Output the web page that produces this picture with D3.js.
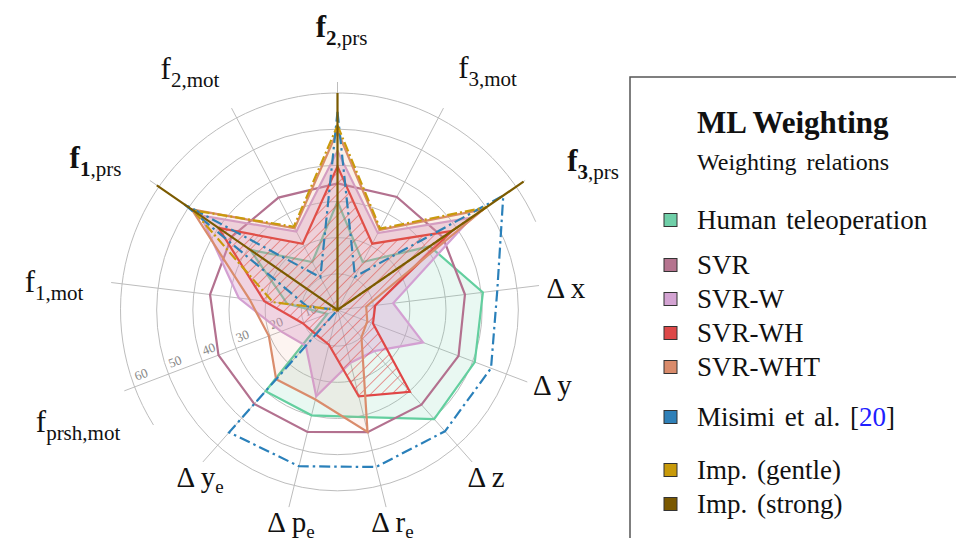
<!DOCTYPE html>
<html>
<head>
<meta charset="utf-8">
<script src="https://cdn.jsdelivr.net/npm/d3@7"></script>
<style>
  body { margin: 0; background: #fff; }
  svg, text { font-family: "Liberation Serif", "Times New Roman", "DejaVu Serif", serif; }
</style>
</head>
<body>
<div id="draw"></div>
<script>
// axes, clockwise from the top
var axisMain = ["f", "f", "f", "\u0394 x", "\u0394 y", "\u0394 z", "\u0394 r", "\u0394 p", "\u0394 y", "f", "f", "f", "f"];
var axisSub  = ["2", "3,mot", "3", "", "", "", "e", "e", "e", "prsh,mot", "1,mot", "1", "2,mot"];
var axisSubRest = [",prs", "", ",prs", "", "", "", "", "", "", "", "", ",prs", ""];
var axisBold = [true, false, true, false, false, false, false, false, false, false, false, true, false];
var ticks = [10, 20, 30, 40, 50, 60];

// series values (same axis order)
var human   = [30, 15, 31, 40.5, 40.6, 40.3, 30.5, 30, 30, 3, 14, 29.3, 15];
var svr     = [35, 35.3, 35.4, 35.5, 35.8, 35, 34.8, 34.7, 34.7, 35.2, 35.5, 35.6, 35.1];
var svrW    = [44, 24, 45, 15.5, 25.3, 15.2, 15, 24.6, 13.2, 16.7, 27.5, 46, 24.5];
var svrWH   = [39.7, 20.7, 38.5, 10.5, 10.5, 30.2, 24.6, 9.9, 9, 10.3, 20.4, 40, 20.7];
var svrWHT  = [49.5, 25, 49, 8, 8.8, 10, 34.7, 25.5, 25.6, 20.3, 24.5, 49, 25.5];
var misimi  = [54.8, 10.4, 55.7, 44.5, 45.4, 44.8, 44.7, 44.5, 45.2, 0, 8.5, 51.5, 10.2];
var impGentle = [51, 25.4, 50, 0, 0, 0, 0, 0, 0, 0, 18, 48.5, 26];
var impStrong = [60, 0, 62.5, 0, 0, 0, 0, 0, 0, 0, 0, 60.7, 0];

var seriesNames = ["Human teleoperation", "SVR", "SVR-W", "SVR-WH", "SVR-WHT", "Misimi et al. [20]", "Imp. (gentle)", "Imp. (strong)"];
var legendGroup = [0, 1, 1, 1, 1, 2, 3, 3];

var width = 956, height = 538;
var cx = 337.5, cy = 310;
var n = axisMain.length;

var svg = d3.select("#draw").append("svg")
	.attr("width", width)
	.attr("height", height)
	.attr("font-family", "'Liberation Serif', 'Times New Roman', serif");

var defs = svg.append("defs");
var hatch = defs.append("pattern")
	.attr("id", "hatch")
	.attr("patternUnits", "userSpaceOnUse")
	.attr("width", 7.5)
	.attr("height", 7.5)
	.attr("patternTransform", "rotate(45)");
hatch.append("line")
	.attr("x1", 0).attr("y1", 0).attr("x2", 0).attr("y2", 7.5)
	.attr("stroke", "#e04646")
	.attr("stroke-width", 1.1);

var r = d3.scaleLinear().domain([0, 60]).range([0, 217]);
function ang(i) { return i * 2 * Math.PI / n; }
function dir(i) { return [Math.sin(ang(i)), -Math.cos(ang(i))]; }

var g = svg.append("g").attr("transform", "translate(" + cx + "," + cy + ")");

// grid rings
var grid = g.append("g");
grid.selectAll("circle.ring")
	.data(ticks.slice(0, 5))
	.enter()
	.append("circle")
	.attr("r", function(d){ return r(d); })
	.attr("fill", "none")
	.attr("stroke", "#bdbdbd")
	.attr("stroke-width", 1);

// outer ring only over the f-sector
var outer = d3.path();
outer.arc(0, 0, r(60), (238 - 90) * Math.PI / 180, (66 + 360 - 90) * Math.PI / 180);
grid.append("path")
	.attr("d", outer.toString())
	.attr("fill", "none")
	.attr("stroke", "#bdbdbd")
	.attr("stroke-width", 1);

// spokes
grid.selectAll("line.spoke")
	.data(d3.range(n))
	.enter()
	.append("line")
	.attr("x1", 0).attr("y1", 0)
	.attr("x2", function(i){ return dir(i)[0] * (axisMain[i] == "f" ? 228 : 203); })
	.attr("y2", function(i){ return dir(i)[1] * (axisMain[i] == "f" ? 228 : 203); })
	.attr("stroke", "#bdbdbd")
	.attr("stroke-width", 1);

// tick labels along the fprsh,mot spoke
var tickAxis = 9;
var tickRot = Math.atan2(-dir(tickAxis)[1], -dir(tickAxis)[0]) * 180 / Math.PI;
grid.selectAll("text.tick")
	.data(ticks)
	.enter()
	.append("text")
	.attr("transform", function(d){
		return "translate(" + dir(tickAxis)[0] * r(d) + "," + dir(tickAxis)[1] * r(d) + ") rotate(" + tickRot + ")";
	})
	.attr("x", 4)
	.attr("y", -5)
	.attr("font-size", 13)
	.attr("fill", "#888")
	.text(function(d){ return d; });

// series
var line = d3.lineRadial()
	.angle(function(d, i){ return ang(i); })
	.radius(function(d){ return r(d); })
	.curve(d3.curveLinearClosed);

var series = [
	{ v: human,     stroke: "#63cf9f", fill: "rgba(110,210,170,0.15)", dash: null },
	{ v: svr,       stroke: "#b3718f", fill: "none", dash: null },
	{ v: svrW,      stroke: "#d3a0d2", fill: "rgba(214,150,205,0.34)", dash: null },
	{ v: svrWH,     stroke: "#e04646", fill: "url(#hatch)", dash: null },
	{ v: svrWHT,    stroke: "#da8c6c", fill: "rgba(232,150,118,0.1)", dash: null },
	{ v: misimi,    stroke: "#2a80ba", fill: "none", dash: "11,4,2.5,4" },
	{ v: impGentle, stroke: "#c99a0c", fill: "rgba(210,160,20,0.04)", dash: "10,3,2,3" },
	{ v: impStrong, stroke: "#7b5b00", fill: "none", dash: null }
];

g.selectAll("path.series")
	.data(series)
	.enter()
	.append("path")
	.attr("class", "series")
	.attr("d", function(d){ return line(d.v); })
	.attr("fill", function(d){ return d.fill; })
	.attr("stroke", function(d){ return d.stroke; })
	.attr("stroke-width", 2.2)
	.attr("stroke-linejoin", "miter")
	.attr("stroke-dasharray", function(d){ return d.dash; });

// axis labels
var labelNudge = [[4, 7], [19.9, 15.9], [25.1, 20.1], [8.1, 14.8], [7.4, 6.3], [1.3, 10.8], [1.9, 6.5],
	[6.6, 6.5], [9.7, 10.8], [2.3, 22.7], [-5.5, 15.7], [-11.6, 17.1], [-17.4, 16.9]];
d3.range(n).forEach(function(i){
	var isF = axisMain[i] == "f";
	var R = isF ? 280 : 222;
	var t = g.append("text")
		.attr("x", dir(i)[0] * R + labelNudge[i][0])
		.attr("y", dir(i)[1] * R + labelNudge[i][1])
		.attr("text-anchor", "middle")
		.attr("font-size", isF ? 31 : 29)
		.attr("fill", "#111");
	t.append("tspan")
		.attr("font-weight", axisBold[i] ? "bold" : "normal")
		.text(axisMain[i]);
	if (axisSub[i] != "") {
		t.append("tspan")
			.attr("font-size", isF ? 21 : 19)
			.attr("dy", isF ? 8 : 6)
			.attr("font-weight", axisBold[i] ? "bold" : "normal")
			.text(axisSub[i]);
		if (axisSubRest[i] != "")
			t.append("tspan")
				.attr("font-size", 21)
				.text(axisSubRest[i]);
	}
});

// legend
var legend = svg.append("g");
legend.append("rect")
	.attr("x", 630).attr("y", 77)
	.attr("width", 400).attr("height", 500)
	.attr("fill", "#fff")
	.attr("stroke", "#555")
	.attr("stroke-width", 1.5);
legend.append("text")
	.attr("x", 697).attr("y", 133)
	.attr("font-size", 31)
	.attr("font-weight", "bold")
	.attr("fill", "#111")
	.text("ML Weighting");
legend.append("text")
	.attr("x", 697).attr("y", 170)
	.attr("font-size", 24)
	.attr("word-spacing", 4)
	.attr("fill", "#111")
	.text("Weighting relations");

var swatch = ["#6fcfa8", "#b5748f", "#d3a3d2", "#dd4848", "#d98b6b", "#2f80b8", "#c89a0a", "#7a5800"];
var groupGap = [0, 11, 27, 46];
var itemY = seriesNames.map(function(d, i){ return 220 + i * 34 + groupGap[legendGroup[i]]; });

var items = legend.selectAll("g.item")
	.data(seriesNames)
	.enter()
	.append("g")
	.attr("transform", function(d, i){ return "translate(0," + itemY[i] + ")"; });
items.append("rect")
	.attr("x", 664).attr("y", -6.5)
	.attr("width", 13).attr("height", 13)
	.attr("fill", function(d, i){ return swatch[i]; })
	.attr("stroke", "#333")
	.attr("stroke-width", 1);
items.append("text")
	.attr("x", 697).attr("y", 8.5)
	.attr("font-size", 27)
	.attr("word-spacing", 3)
	.attr("fill", "#111")
	.each(function(d){
		var m = d.match(/^(.*\[)(\d+)(\])$/);
		var t = d3.select(this);
		if (m) {
			t.append("tspan").text(m[1]);
			t.append("tspan").attr("fill", "#2020ff").text(m[2]);
			t.append("tspan").text(m[3]);
		} else {
			t.text(d);
		}
	});
</script>
</body>
</html>
